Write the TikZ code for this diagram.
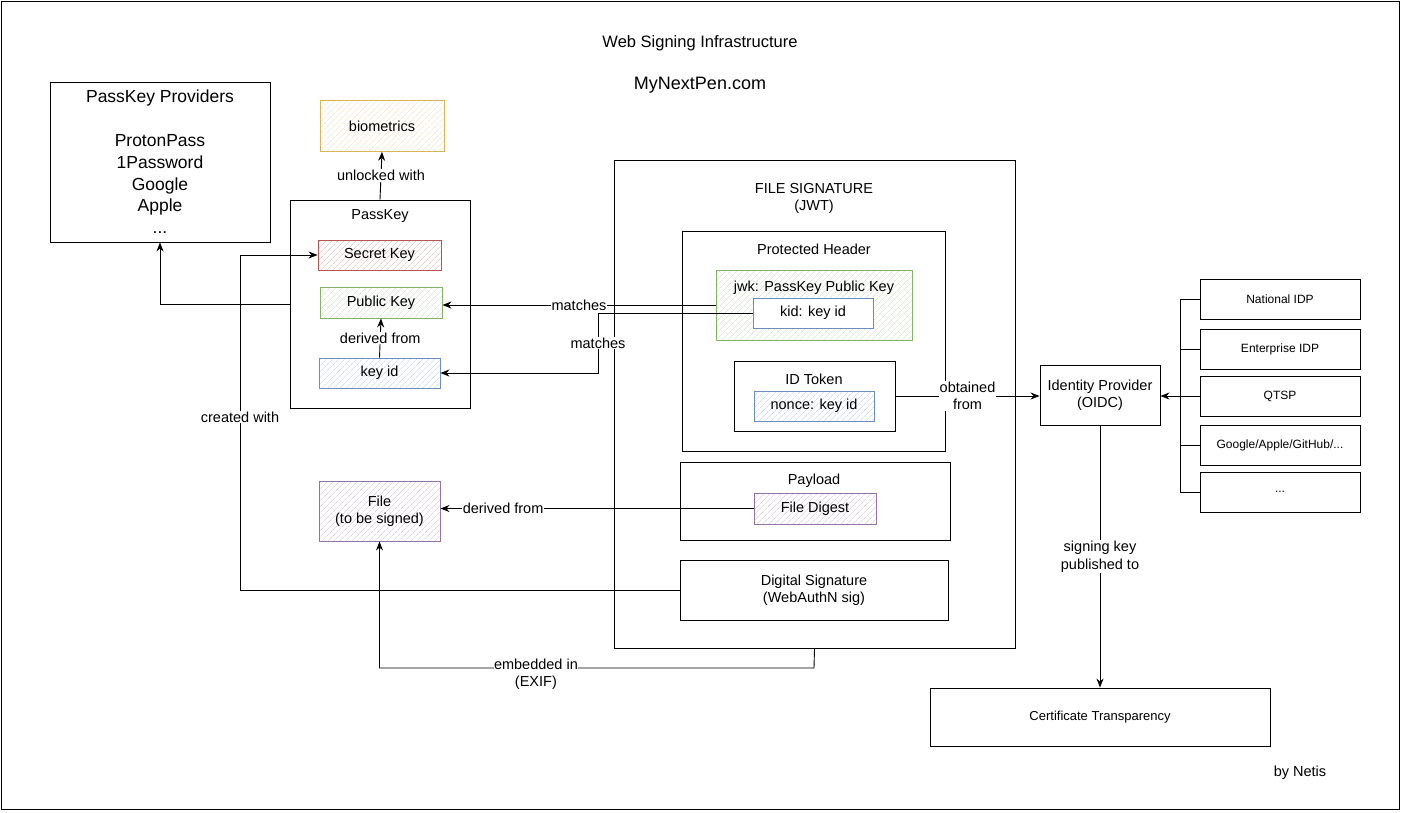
\documentclass[tikz,border=0pt]{standalone}
\usepackage{fontspec}
\setmainfont{Liberation Sans}
\usetikzlibrary{arrows.meta,patterns.meta}
\definecolor{yelS}{HTML}{D6B656}
\definecolor{redS}{HTML}{B85450}
\definecolor{grnS}{HTML}{82B366}
\definecolor{bluS}{HTML}{6C8EBF}
\definecolor{purS}{HTML}{9673A6}
\tikzset{
  box/.style={draw, line width=0.9pt, rectangle, inner sep=0pt, align=center, font=\fontsize{14.5}{17.5}\selectfont},
  hatch/.style={box, draw=#1, pattern={Lines[angle=45,distance=4pt,line width=0.6pt]}, pattern color=#1!45},
  lbl/.style={font=\fontsize{14.5}{17.5}\selectfont, align=center},
  wlbl/.style={lbl, fill=white, inner sep=1pt},
  arr/.style={line width=0.9pt, -{Stealth[length=9pt,width=7pt]}},
  ln/.style={line width=0.9pt},
  idpbox/.style={box, minimum width=160pt, minimum height=40pt, font=\fontsize{12}{14}\selectfont},
}
\begin{document}
\begin{tikzpicture}[x=1pt,y=-1pt]
\useasboundingbox (0,0) rectangle (1401,812);
\draw[line width=1pt] (1,1) rectangle (1399,809);

% titles
\node[font=\fontsize{16.5}{19}\selectfont] (title) at (700,43) {Web Signing Infrastructure};
\node[font=\fontsize{18}{21}\selectfont] (site) at (700,85) {MyNextPen.com};

% PassKey providers
\node[box, minimum width=220pt, minimum height=160pt, font=\fontsize{17.5}{21.8}\selectfont] (prov) at (160,162)
  {PassKey Providers\\[21.8pt]ProtonPass\\1Password\\Google\\Apple\\...};

% biometrics
\node[hatch=yelS, minimum width=124pt, minimum height=51pt] (bio) at (382,126) {biometrics};

% PassKey container
\node[box, minimum width=180pt, minimum height=208pt] (passkey) at (380,304) {};
\node[lbl] (passkeyT) at (380,216) {PassKey};
\node[hatch=redS, minimum width=123pt, minimum height=30pt] (secret) at (379.5,255) {Secret Key};
\node[hatch=grnS, minimum width=122pt, minimum height=31pt] (pub) at (381,302.5) {Public Key};
\node[hatch=bluS, minimum width=121pt, minimum height=30pt] (keyid) at (379.5,373) {key id};

% File
\node[hatch=purS, minimum width=121pt, minimum height=60pt] (file) at (379.5,511) {File\\(to be signed)};

% File signature container
\node[box, minimum width=401pt, minimum height=488pt] (filesig) at (814.5,404) {};
\node[lbl] (filesigT) at (814,198.5) {FILE SIGNATURE\\(JWT)};

\node[box, minimum width=263pt, minimum height=220pt] (ph) at (813.5,341) {};
\node[lbl] (phT) at (814,249) {Protected Header};
\node[hatch=grnS, minimum width=196pt, minimum height=70pt] (jwk) at (814,305) {};
\node[lbl] (jwkT) at (814,288) {jwk: PassKey Public Key};
\node[hatch=bluS, minimum width=120pt, minimum height=30pt, fill=white] (kid) at (813,313) {kid: key id};

\node[box, minimum width=161pt, minimum height=70pt] (idtok) at (814.5,396) {};
\node[lbl] (idtokT) at (814,379) {ID Token};
\node[hatch=bluS, minimum width=120pt, minimum height=30pt] (nonce) at (814,406) {nonce: key id};

\node[box, minimum width=270pt, minimum height=78pt] (payload) at (815,501) {};
\node[lbl] (payloadT) at (814,481) {Payload};
\node[hatch=purS, minimum width=122pt, minimum height=31pt] (digest) at (815,508.5) {File Digest};

\node[box, minimum width=268pt, minimum height=60pt] (sig) at (814,590) {Digital Signature\\(WebAuthN sig)};

% identity provider
\node[box, minimum width=120pt, minimum height=60pt] (idp) at (1100,395) {Identity Provider\\(OIDC)};
\node[idpbox] (nat) at (1280,299) {National IDP};
\node[idpbox] (ent) at (1280,349) {Enterprise IDP};
\node[idpbox] (qtsp) at (1280,396) {QTSP};
\node[idpbox] (goog) at (1280,445) {Google/Apple/GitHub/...};
\node[idpbox] (more) at (1280,492) {...};

\node[box, minimum width=340pt, minimum height=58pt, font=\fontsize{13}{16}\selectfont] (ct) at (1100,717) {Certificate Transparency};

\node[lbl] (by) at (1300,773) {by Netis};

% connectors
\draw[arr] (passkey.west) -| (prov.south);
\draw[arr] (passkey.north) -- node[wlbl] {unlocked with} (bio.south);
\draw[arr] (keyid.north) -- node[wlbl] {derived from} (pub.south);

\coordinate (cw) at (240,255);
\draw[arr] (sig.west) -| (cw) -- (secret.west);
\node[wlbl] (cwT) at (240,417) {created with};

\draw[arr] (jwk.west) -- node[wlbl, pos=0.5] {matches} (jwk.west -| pub.east);
\coordinate (m2) at (598,313);
\draw[arr] (kid.west) -- (m2) |- node[wlbl, pos=0.25] {matches} (keyid.east);

\draw[arr] (idtok.east) -- node[wlbl] {obtained\\from} (idtok.east -| idp.west);

\draw[arr] (digest.west) -- node[wlbl, pos=0.8] {derived from} (digest.west -| file.east);

\coordinate (e1) at (814,668);
\coordinate (e2) at (379.5,668);
\draw[arr] (filesig.south) -- (e1) -- node[wlbl, pos=0.64, yshift=-6pt, inner sep=0pt] {embedded in\\(EXIF)} (e2) -- (file.south);

\coordinate (b1) at (1180,299);
\coordinate (b2) at (1180,492);
\draw[ln] (nat.west) -- (b1) -- (b2) -- (more.west);
\draw[ln] (ent.west) -- (ent.west -| b1);
\draw[ln] (goog.west) -- (goog.west -| b1);
\draw[arr] (qtsp.west) -- (qtsp.west -| idp.east);

\draw[arr] (idp.south) -- node[wlbl] {signing key\\published to} (ct.north);
\end{tikzpicture}
\end{document}
